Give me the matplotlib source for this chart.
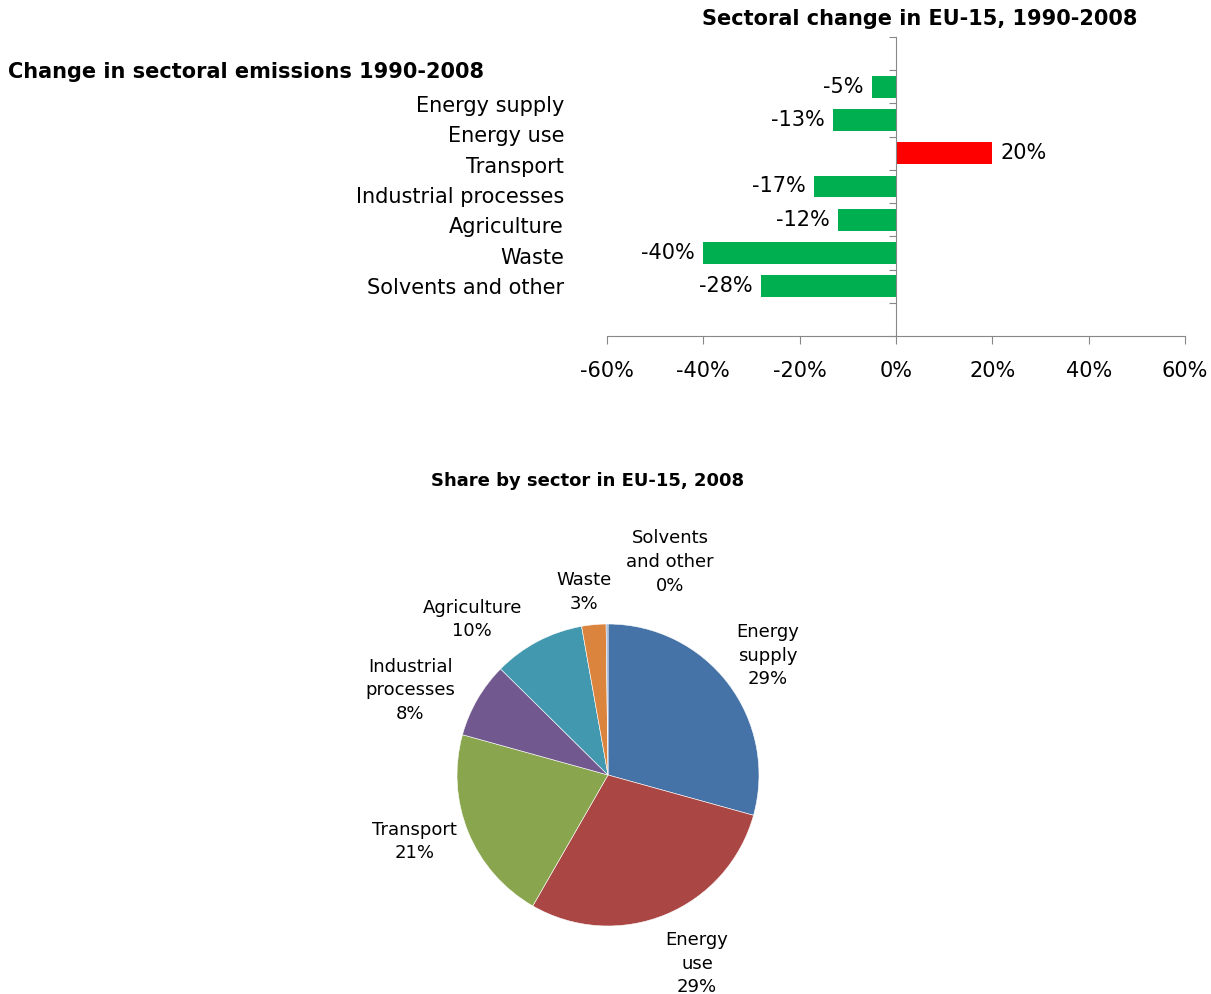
import numpy as np
import matplotlib
matplotlib.use("Agg")
import matplotlib.pyplot as plt

plt.rcParams['font.family'] = 'DejaVu Sans'

# sectors, in display order
sectors = ["Energy supply", "Energy use", "Transport", "Industrial processes",
           "Agriculture", "Waste", "Solvents and other"]
# change 1990-2008, in %
change = [-5, -13, 20, -17, -12, -40, -28]
# share of total in 2008, in %
share = [29.3, 29.0, 21.0, 8.1, 9.8, 2.6, 0.2]
pie_labels = ["Energy\nsupply", "Energy\nuse", "Transport", "Industrial\nprocesses",
              "Agriculture", "Waste", "Solvents\nand other"]
x_ticks = [-60, -40, -20, 0, 20, 40, 60]

green = "#00B050"
red = "#FF0000"
pie_colors = ["#4572A7", "#AA4643", "#89A54E", "#71588F", "#4198AF", "#DB843D", "#93A9CF"]
axis_grey = "#888888"

W, H = 1211, 994
fig = plt.figure(figsize=(W / 100, H / 100), dpi=100)

# --- bar chart (one empty slot above and below the sectors) ---
ax = fig.add_axes([607 / W, 1 - 336 / H, (1185 - 607) / W, (336 - 37) / H])
n = len(sectors)
ypos = np.arange(n) + 1.5
bar_colors = [red if v > 0 else green for v in change]
ax.barh(ypos, change, height=0.65, color=bar_colors)
ax.set_ylim(n + 2, 0)
ax.set_xlim(-60, 60)
ax.set_xticks(x_ticks)
ax.set_xticklabels([f"{t}%" for t in x_ticks], fontsize=15)
ax.set_yticks(np.arange(0, n + 3))
ax.set_yticklabels([])
ax.tick_params(axis='x', direction='out', length=6, color=axis_grey, pad=12)
ax.tick_params(axis='y', direction='out', length=5, color=axis_grey)
for s in ['top', 'right']:
    ax.spines[s].set_visible(False)
ax.spines['left'].set_position(('data', 0))
ax.spines['left'].set_color(axis_grey)
ax.spines['bottom'].set_color(axis_grey)

for y, v in zip(ypos, change):
    off = 6 if v > 0 else -6
    ax.annotate(f"{v}%", (v, y), xytext=(off, 0), textcoords='offset points',
                ha='left' if v > 0 else 'right', va='center', fontsize=15)

fig.text(920 / W, 1 - 19 / H, "Sectoral change in EU-15, 1990-2008",
         ha='center', va='center', fontsize=15, fontweight='bold')
fig.text(8 / W, 1 - 72 / H, "Change in sectoral emissions 1990-2008",
         ha='left', va='center', fontsize=15, fontweight='bold')
for i, name in enumerate(sectors):
    fig.text(564 / W, 1 - (106 + 30.3 * i) / H, name,
             ha='right', va='center', fontsize=15)

# --- pie chart ---
R = 151
cx, cy = 608, 775
xl, yl_lo, yl_hi = 1.6, 1.45, 1.6
pax = fig.add_axes([(cx - xl * R) / W, 1 - (cy + yl_lo * R) / H,
                    2 * xl * R / W, (yl_lo + yl_hi) * R / H])
wedges, _ = pax.pie(share, colors=pie_colors, startangle=90, counterclock=False,
                    wedgeprops=dict(edgecolor='white', linewidth=0.4))
pax.set_xlim(-xl, xl)
pax.set_ylim(-yl_lo, yl_hi)
pax.set_aspect('equal')
pax.axis('off')

label_xy = [(1.06, 0.79), (0.59, -1.25), (-1.28, -0.44), (-1.31, 0.56),
            (-0.90, 1.03), (-0.16, 1.21), (0.41, 1.41)]
for lab, v, (lx, ly) in zip(pie_labels, share, label_xy):
    pax.text(lx, ly, f"{lab}\n{v:.0f}%", ha='center', va='center',
             fontsize=13, linespacing=1.4)

fig.text(588 / W, 1 - 481 / H, "Share by sector in EU-15, 2008",
         ha='center', va='center', fontsize=13, fontweight='bold')

fig.savefig("out.png", dpi=100)
